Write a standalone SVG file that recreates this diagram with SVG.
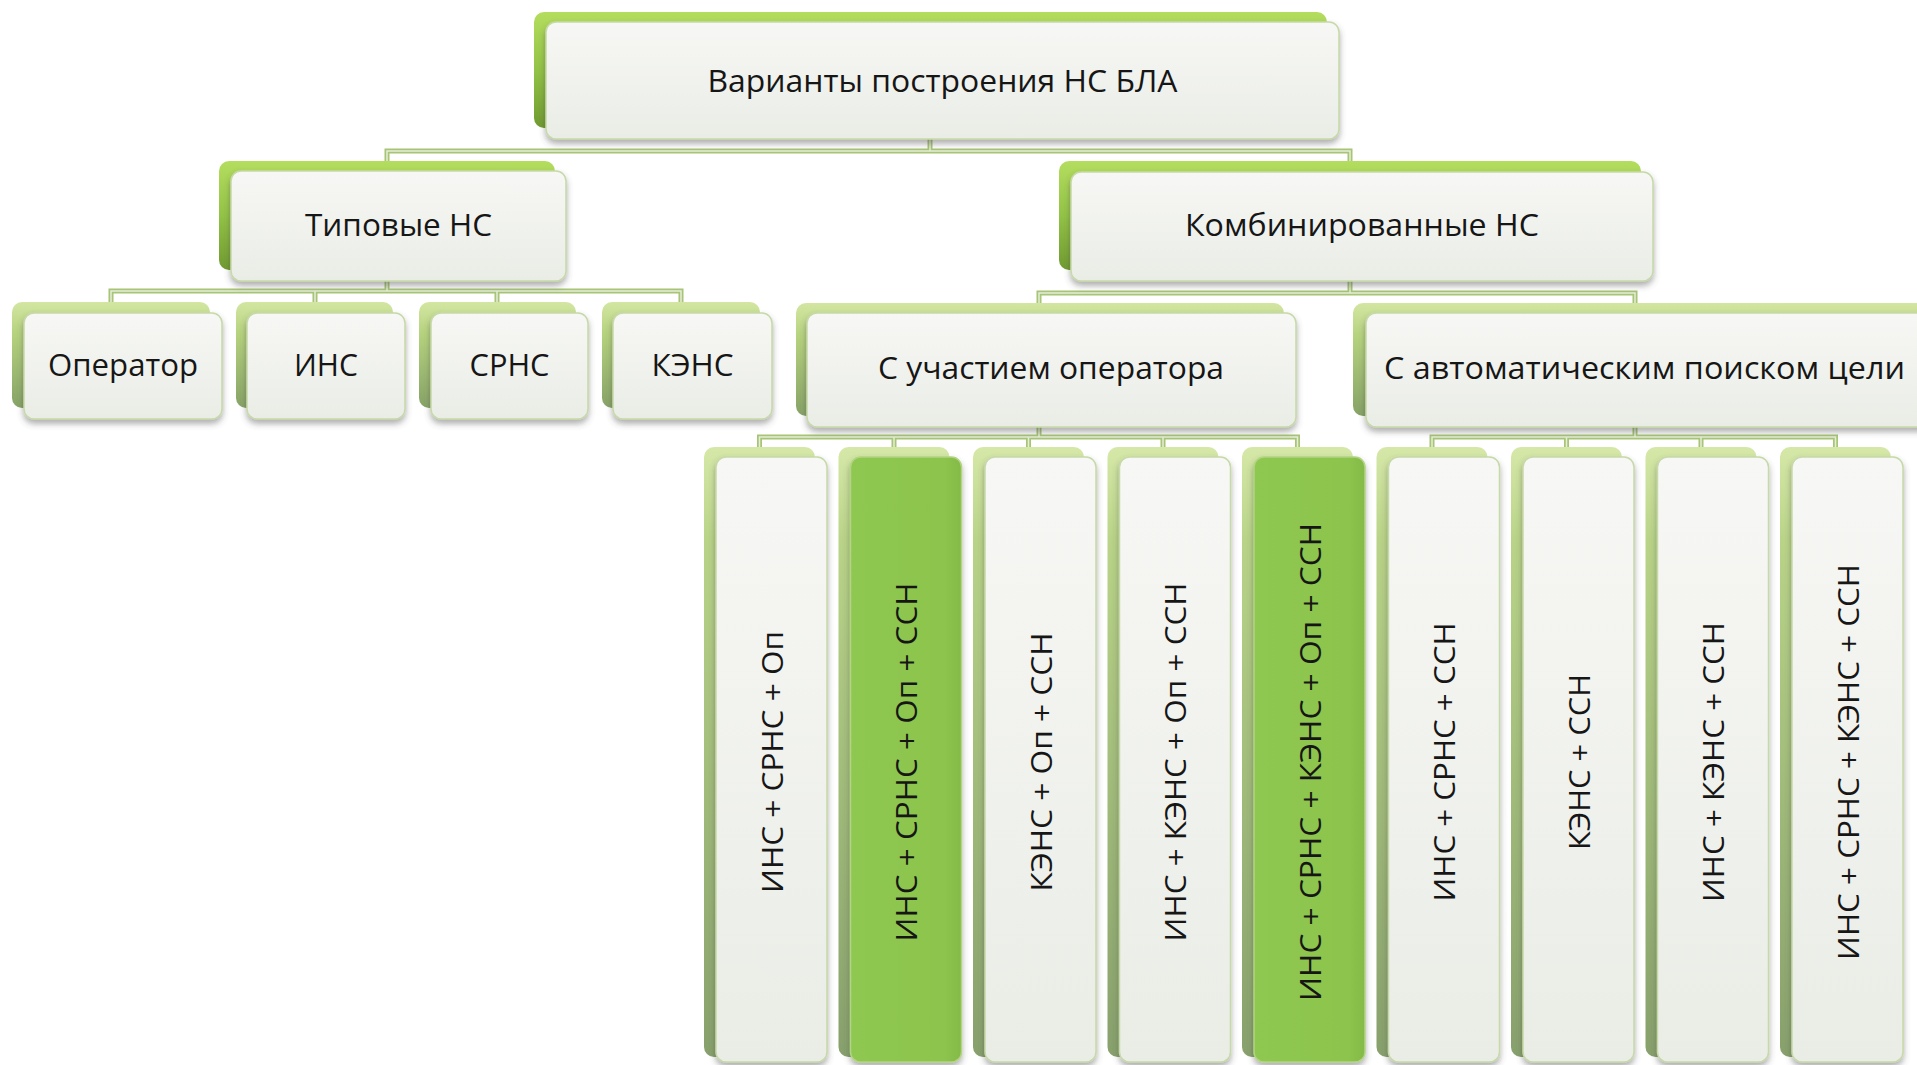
<svg xmlns="http://www.w3.org/2000/svg" width="1917" height="1065" viewBox="0 0 1917 1065">
<defs>
<linearGradient id="gBackStrong" x1="0" y1="0" x2="0" y2="1">
<stop offset="0" stop-color="#b4dd5e"/><stop offset="0.5" stop-color="#92c246"/><stop offset="1" stop-color="#6f9a30"/>
</linearGradient>
<linearGradient id="gBackPale" x1="0" y1="0" x2="0" y2="1">
<stop offset="0" stop-color="#d3e6a2"/><stop offset="0.3" stop-color="#b5d27e"/><stop offset="1" stop-color="#86a266"/>
</linearGradient>
<linearGradient id="gBackCol" x1="0" y1="0" x2="0" y2="1">
<stop offset="0" stop-color="#d6e8a8"/><stop offset="0.15" stop-color="#b9d488"/><stop offset="1" stop-color="#87a06c"/>
</linearGradient>
<linearGradient id="gFront" x1="0" y1="0" x2="0" y2="1">
<stop offset="0" stop-color="#f7f8f5"/><stop offset="1" stop-color="#eaece6"/>
</linearGradient>
<linearGradient id="gGreen" x1="0" y1="0" x2="1" y2="0">
<stop offset="0" stop-color="#8fc851"/><stop offset="0.85" stop-color="#8cc44d"/><stop offset="1" stop-color="#84ba48"/>
</linearGradient>
<filter id="shadow" x="-10%" y="-10%" width="120%" height="130%">
<feDropShadow dx="0" dy="4" stdDeviation="3" flood-color="#4a4a4a" flood-opacity="0.45"/>
</filter>
</defs>
<style>
.back-s { fill: url(#gBackStrong); }
.back-p { fill: url(#gBackPale); }
.back-c { fill: url(#gBackCol); }
.front { fill: url(#gFront); stroke: #c6d9a8; stroke-width: 1.5; filter: url(#shadow); }
.front-g { fill: url(#gGreen); stroke: #b3d483; stroke-width: 1.5; filter: url(#shadow); }
.lbl { font-family: "Open Sans", "Noto Sans", "DejaVu Sans", sans-serif; font-size: 31px; fill: #161616; text-anchor: middle; }
.vlbl { font-family: "Open Sans", "Noto Sans", "DejaVu Sans", sans-serif; font-size: 30px; fill: #161616; text-anchor: middle; }
.conn-o { fill: none; stroke: #a7c477; stroke-width: 5; }
.conn-i { fill: none; stroke: #e5eed6; stroke-width: 1.5; }
</style>
<rect width="1917" height="1065" fill="#ffffff"/>

<g id="connectors">
<path class="conn-o" d="M930,139 V151 M387,161 V151 H1350 V161"/>
<path class="conn-i" d="M930,139 V151 M387,161 V151 H1350 V161"/>
<path class="conn-o" d="M387,281 V291 M111,302 V291 H681 V302 M315,291 V302 M497,291 V302"/>
<path class="conn-i" d="M387,281 V291 M111,302 V291 H681 V302 M315,291 V302 M497,291 V302"/>
<path class="conn-o" d="M1350,281 V293 M1039,303 V293 H1635 V303"/>
<path class="conn-i" d="M1350,281 V293 M1039,303 V293 H1635 V303"/>
<path class="conn-o" d="M1039,427 V437 M759.5,447 V437 H1297.5 V447 M894,437 V447 M1028.5,437 V447 M1163,437 V447"/>
<path class="conn-i" d="M1039,427 V437 M759.5,447 V437 H1297.5 V447 M894,437 V447 M1028.5,437 V447 M1163,437 V447"/>
<path class="conn-o" d="M1635,427 V437 M1432,447 V437 H1835.5 V447 M1566.5,437 V447 M1701,437 V447"/>
<path class="conn-i" d="M1635,427 V437 M1432,447 V437 H1835.5 V447 M1566.5,437 V447 M1701,437 V447"/>
</g>

<g id="node-root">
<rect class="back-s" x="534" y="12" width="793" height="116" rx="10"/>
<rect class="front" x="546" y="22" width="793" height="117" rx="10"/>
<text class="lbl" x="942.5" y="92" textLength="470" lengthAdjust="spacingAndGlyphs">Варианты построения НС БЛА</text>
</g>

<g id="node-typical">
<rect class="back-s" x="219" y="161" width="336" height="109" rx="10"/>
<rect class="front" x="231" y="171" width="335" height="110" rx="10"/>
<text class="lbl" x="398.5" y="236" textLength="187" lengthAdjust="spacingAndGlyphs">Типовые НС</text>
</g>

<g id="node-combined">
<rect class="back-s" x="1059" y="161" width="582" height="109" rx="10"/>
<rect class="front" x="1071" y="172" width="582" height="109" rx="10"/>
<text class="lbl" x="1362" y="236" textLength="354" lengthAdjust="spacingAndGlyphs">Комбинированные НС</text>
</g>

<g id="node-operator">
<rect class="back-p" x="12" y="302" width="198" height="106" rx="10"/>
<rect class="front" x="24" y="313" width="198" height="106" rx="10"/>
<text class="lbl" x="123" y="376" textLength="150" lengthAdjust="spacingAndGlyphs">Оператор</text>
</g>

<g id="node-ins">
<rect class="back-p" x="236" y="302" width="157" height="106" rx="10"/>
<rect class="front" x="247" y="313" width="158" height="106" rx="10"/>
<text class="lbl" x="326" y="376" textLength="64" lengthAdjust="spacingAndGlyphs">ИНС</text>
</g>

<g id="node-srns">
<rect class="back-p" x="419" y="302" width="157" height="106" rx="10"/>
<rect class="front" x="431" y="313" width="157" height="106" rx="10"/>
<text class="lbl" x="509.5" y="376" textLength="80" lengthAdjust="spacingAndGlyphs">СРНС</text>
</g>

<g id="node-kens">
<rect class="back-p" x="602" y="302" width="158" height="106" rx="10"/>
<rect class="front" x="613" y="313" width="159" height="106" rx="10"/>
<text class="lbl" x="692.5" y="376" textLength="82" lengthAdjust="spacingAndGlyphs">КЭНС</text>
</g>

<g id="node-with-operator">
<rect class="back-p" x="796" y="303" width="488" height="113" rx="10"/>
<rect class="front" x="807" y="313" width="489" height="114" rx="10"/>
<text class="lbl" x="1051" y="379" textLength="346" lengthAdjust="spacingAndGlyphs">С участием оператора</text>
</g>

<g id="node-auto-search">
<rect class="back-p" x="1353" y="303" width="580" height="113" rx="10"/>
<rect class="front" x="1366" y="313" width="580" height="114" rx="10"/>
<text class="lbl" x="1644.5" y="379" textLength="521" lengthAdjust="spacingAndGlyphs">С автоматическим поиском цели</text>
</g>

<g id="node-c1">
<rect class="back-c" x="704" y="447" width="111" height="610" rx="10"/>
<rect class="front" x="716" y="457" width="111" height="605" rx="10"/>
<text class="vlbl" transform="translate(782.5,762) rotate(-90)" textLength="262" lengthAdjust="spacingAndGlyphs">ИНС + СРНС + Оп</text>
</g>

<g id="node-c2">
<rect class="back-c" x="838.5" y="447" width="111" height="610" rx="10"/>
<rect class="front-g" x="850.5" y="457" width="111" height="605" rx="10"/>
<text class="vlbl" transform="translate(917,762) rotate(-90)" textLength="359" lengthAdjust="spacingAndGlyphs">ИНС + СРНС + Оп + ССН</text>
</g>

<g id="node-c3">
<rect class="back-c" x="973" y="447" width="111" height="610" rx="10"/>
<rect class="front" x="985" y="457" width="111" height="605" rx="10"/>
<text class="vlbl" transform="translate(1051.5,762) rotate(-90)" textLength="259" lengthAdjust="spacingAndGlyphs">КЭНС + Оп + ССН</text>
</g>

<g id="node-c4">
<rect class="back-c" x="1107.5" y="447" width="111" height="610" rx="10"/>
<rect class="front" x="1119.5" y="457" width="111" height="605" rx="10"/>
<text class="vlbl" transform="translate(1186,762) rotate(-90)" textLength="359" lengthAdjust="spacingAndGlyphs">ИНС + КЭНС + Оп + ССН</text>
</g>

<g id="node-c5">
<rect class="back-c" x="1242" y="447" width="111" height="610" rx="10"/>
<rect class="front-g" x="1254" y="457" width="111" height="605" rx="10"/>
<text class="vlbl" transform="translate(1320.5,762) rotate(-90)" textLength="478" lengthAdjust="spacingAndGlyphs">ИНС + СРНС + КЭНС + Оп + ССН</text>
</g>

<g id="node-c6">
<rect class="back-c" x="1376.5" y="447" width="111" height="610" rx="10"/>
<rect class="front" x="1388.5" y="457" width="111" height="605" rx="10"/>
<text class="vlbl" transform="translate(1455,762) rotate(-90)" textLength="279" lengthAdjust="spacingAndGlyphs">ИНС + СРНС + ССН</text>
</g>

<g id="node-c7">
<rect class="back-c" x="1511" y="447" width="111" height="610" rx="10"/>
<rect class="front" x="1523" y="457" width="111" height="605" rx="10"/>
<text class="vlbl" transform="translate(1589.5,762) rotate(-90)" textLength="176" lengthAdjust="spacingAndGlyphs">КЭНС + ССН</text>
</g>

<g id="node-c8">
<rect class="back-c" x="1645.5" y="447" width="111" height="610" rx="10"/>
<rect class="front" x="1657.5" y="457" width="111" height="605" rx="10"/>
<text class="vlbl" transform="translate(1724,762) rotate(-90)" textLength="280" lengthAdjust="spacingAndGlyphs">ИНС + КЭНС + ССН</text>
</g>

<g id="node-c9">
<rect class="back-c" x="1780" y="447" width="111" height="610" rx="10"/>
<rect class="front" x="1792" y="457" width="111" height="605" rx="10"/>
<text class="vlbl" transform="translate(1858.5,762) rotate(-90)" textLength="396" lengthAdjust="spacingAndGlyphs">ИНС + СРНС + КЭНС + ССН</text>
</g>
</svg>
